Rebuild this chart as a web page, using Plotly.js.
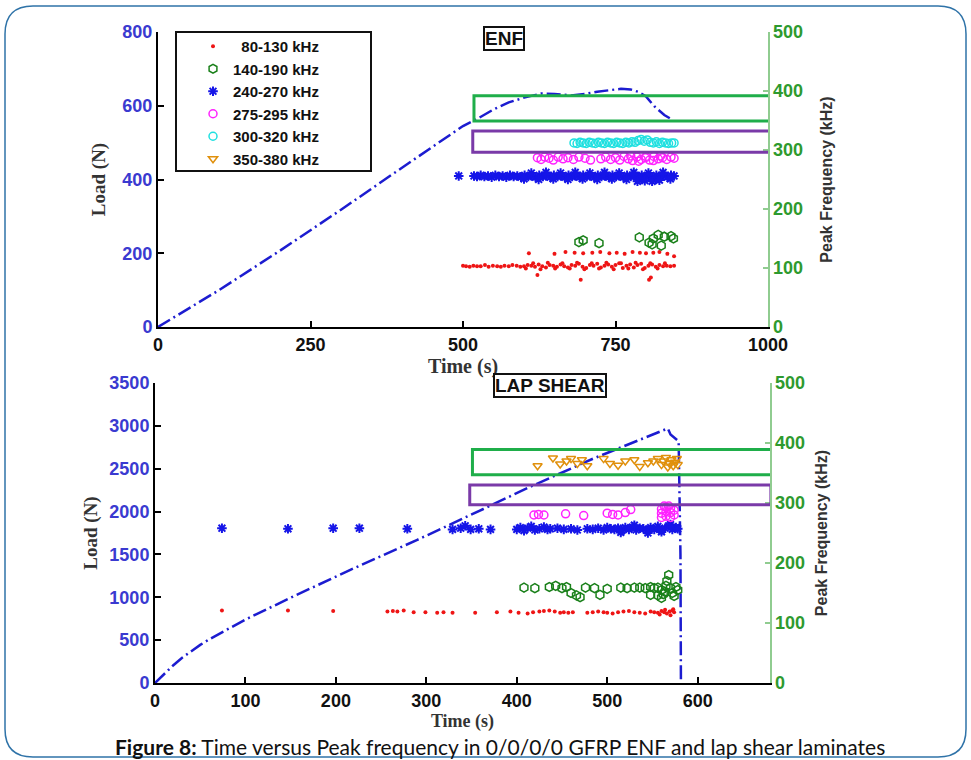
<!DOCTYPE html>
<html>
<head>
<meta charset="utf-8">
<script src="https://cdn.plot.ly/plotly-3.0.1.min.js"></script>
<style>html,body{margin:0;padding:0;background:#fff;}#chart{width:971px;height:760px;}</style>
</head>
<body>
<div id="chart"></div>
<script>
// ---------- DATA ----------
var legendNames = ["\u00a0\u00a080-130 kHz", "140-190 kHz", "240-270 kHz", "275-295 kHz", "300-320 kHz", "350-380 kHz"];

// ENF: load curve
var enfLoadT = [0, 100, 200, 300, 400, 463, 500, 524, 550, 575, 600, 628, 650, 677, 700, 720, 740, 759, 775, 787, 800, 814, 830, 842];
var enfLoadN = [0, 100, 207, 318, 432, 503, 545, 565, 590, 609, 622, 633, 632, 628, 632, 638, 643, 646, 644, 638, 625, 598, 575, 563];

// ENF: peak frequency events
var enfRedT = [500,505,511,517,523,529,536,542,549,556,562,568,575,581,588,594,600,606,612,618,624,630,636,642,648,654,660,666,672,678,684,690,696,702,708,714,720,726,732,738,744,750,756,762,768,774,780,786,792,798,804,810,816,822,828,834,840,846,
  603,615,627,639,651,663,675,687,699,711,723,735,747,759,771,783,795,807,819,831,
  608,650,668,683,697,712,725,740,752,765,778,790,800,812,822,835,846,
  622,693,805,808];
var enfRedF = [104,103,102,104,103,103,105,102,104,103,102,104,103,105,104,102,103,105,104,102,106,103,101,105,104,102,106,103,101,105,104,107,102,100,105,104,107,101,104,106,102,105,108,100,104,106,101,105,107,100,104,106,102,105,103,104,103,104,
  99,108,98,109,99,108,99,109,98,108,99,109,98,108,99,109,98,108,99,108,
  125,124,127,126,125,126,127,125,126,124,127,126,125,126,127,124,120,
  88,80,80,84];

var enfGreenT = [690, 697, 723, 789, 805, 810, 812, 820, 825, 830, 841, 845];
var enfGreenF = [144, 147, 142, 152, 143, 140, 150, 156, 138, 153, 154, 150];

var enfBlueT = [493,518,523,529,535,541,547,553,559,565,571,577,583,589,595,601,607,613,619,625,631,637,643,649,655,661,667,673,679,685,691,697,703,709,715,721,727,733,739,745,751,757,763,769,775,781,787,793,799,805,811,817,823,829,835,841,846,
  600,612,624,636,648,660,672,684,696,708,720,732,744,756,768,780,792,804,816,828,840,
  786,798,810,822];
var enfBlueF = [256,256,255,257,255,256,254,257,255,256,254,257,255,256,254,257,255,256,254,257,255,256,254,257,255,256,254,257,255,256,254,257,255,256,254,257,255,256,254,257,255,256,254,257,255,256,254,257,255,256,254,257,255,256,254,257,256,
  251,261,250,262,251,261,250,262,251,261,250,262,251,261,250,262,251,261,250,262,251,
  247,248,247,249];

var enfMagT = [622,628,634,641,648,656,664,672,681,690,700,709,726,734,742,750,757,764,771,778,785,792,799,806,813,820,827,834,841,846,775,788,800,812,824];
var enfMagF = [287,284,288,286,283,288,285,287,284,288,286,283,285,288,284,287,283,289,285,282,288,284,287,283,289,285,287,284,288,286,290,281,289,282,290];

var enfCyanT = [682,687,692,697,702,707,712,717,722,727,732,737,742,747,752,757,762,767,772,777,782,787,792,797,802,807,812,817,822,827,832,837,842,846];
var enfCyanF = [312,311,313,312,311,313,312,311,313,312,311,313,312,311,313,312,311,313,312,314,313,316,318,315,317,313,312,314,311,313,312,311,312,312];

// LAP SHEAR: load curve
var lapLoadT = [0, 10, 20, 30, 40, 50, 60, 70, 80, 100, 150, 216, 290, 363, 415, 485, 540, 567, 570, 576, 579, 581, 581.5];
var lapLoadN = [0, 105, 205, 295, 375, 445, 510, 570, 625, 740, 995, 1320, 1670, 2030, 2290, 2620, 2850, 2970, 2900, 2840, 2820, 1500, 0];

// LAP SHEAR: peak frequency events
var lapRedT = [74,147,197,257,263,268,275,286,299,312,319,329,354,378,393,402,412,418,425,430,436,442,448,452,457,462,478,484,490,496,500,506,512,518,524,530,536,542,548,552,556,560,563,566,569,572,574,558,564,570,573];
var lapRedF = [121,121,120,119,120,119,121,118,118,117,118,117,117,118,119,117,116,118,119,120,121,119,117,118,117,118,117,118,119,118,117,116,118,119,120,118,117,116,119,118,117,120,118,116,119,121,118,114,122,113,123];

var lapGreenT = [408,420,436,443,450,455,460,466,470,476,486,492,500,515,522,530,536,542,548,552,556,560,562,565,566,568,570,572,574,576,578,556,560,548,564];
var lapGreenF = [159,158,160,162,158,160,150,146,143,159,158,147,157,159,158,159,159,158,160,158,159,155,148,162,170,180,158,150,145,160,155,146,142,147,152];

var lapBlueT = [74,147,197,226,279,329,338,343,349,358,371,400,404,408,412,416,420,425,430,434,437,445,452,460,467,478,484,490,496,500,504,508,512,516,520,524,528,532,536,540,544,548,552,556,560,564,568,572,576,578,515,530,545,560,570];
var lapBlueF = [258,257,258,258,257,256,258,262,256,257,256,256,259,254,258,261,255,257,260,256,257,258,256,257,255,257,256,258,255,259,257,256,258,254,259,256,260,255,258,257,254,259,256,261,255,258,262,256,259,257,251,263,250,252,264];

var lapMagT = [419,424,430,454,474,500,506,512,520,526,560,560,560,565,565,565,570,570,570,574,574,563,568];
var lapMagF = [280,281,280,282,279,283,281,280,284,289,276,283,290,278,286,293,276,284,291,280,288,295,295];

var lapOrangeT = [423,440,448,455,460,467,472,478,496,503,512,520,530,536,545,551,556,560,562,565,567,569,571,573,575,577,578];
var lapOrangeF = [362,375,365,370,374,366,372,362,374,366,363,370,372,361,367,370,374,364,370,376,360,366,372,362,368,374,364];

// ---------- CHART ----------
var TICK = 'Liberation Sans, Arial, sans-serif';
var SERIF = 'Liberation Serif, Times New Roman, serif';
var blueTick = '#3a3ad0', greenTick = '#2e9a2e';

var styles = [
  {symbol:'circle', size:4, color:'#ee1515', line:{width:0}},
  {symbol:'hexagon-open', size:9, color:'#1a801a', line:{width:1.5, color:'#1a801a'}},
  {symbol:'asterisk-open', size:8, color:'#1515e8', line:{width:2, color:'#1515e8'}},
  {symbol:'circle-open', size:8, color:'#ff22ff', line:{width:1.5, color:'#ff22ff'}},
  {symbol:'circle-open', size:8, color:'#20e0e0', line:{width:1.5, color:'#20e0e0'}},
  {symbol:'triangle-down-open', size:8, color:'#e0900c', line:{width:1.5, color:'#e0900c'}}
];

function pts(idx, t, f, xa, ya, legend) {
  return {type:'scatter', mode:'markers', x:t, y:f, xaxis:xa, yaxis:ya, name:legendNames[idx],
    marker:styles[idx], showlegend:legend, legendrank:idx+1, legendgroup:'g'+idx, hoverinfo:'skip'};
}
function loadLine(t, n, xa, ya) {
  return {type:'scatter', mode:'lines', x:t, y:n, xaxis:xa, yaxis:ya, showlegend:false,
    line:{color:'#1c1cd0', width:2.5, dash:'14px,4px,2px,4px'}, hoverinfo:'skip'};
}

var data = [
  loadLine(enfLoadT, enfLoadN, 'x', 'y'),
  pts(0, enfRedT, enfRedF, 'x', 'y2', true),
  pts(1, enfGreenT, enfGreenF, 'x', 'y2', true),
  pts(2, enfBlueT, enfBlueF, 'x', 'y2', true),
  pts(3, enfMagT, enfMagF, 'x', 'y2', true),
  pts(4, enfCyanT, enfCyanF, 'x', 'y2', true),
  loadLine(lapLoadT, lapLoadN, 'x2', 'y3'),
  pts(0, lapRedT, lapRedF, 'x2', 'y4', false),
  pts(1, lapGreenT, lapGreenF, 'x2', 'y4', false),
  pts(2, lapBlueT, lapBlueF, 'x2', 'y4', false),
  pts(3, lapMagT, lapMagF, 'x2', 'y4', false),
  pts(5, lapOrangeT, lapOrangeF, 'x2', 'y4', true)
];

function xAxis(dom, range, dtick, anchor, tsize) {
  return {domain:dom, range:range, dtick:dtick, tick0:0, anchor:anchor, showgrid:false, zeroline:false,
    showline:true, linecolor:'#000', linewidth:2, ticks:'inside', ticklen:6, tickwidth:2, tickcolor:'#000',
    tickfont:{family:TICK, size:18, color:'#111', weight:'bold'},
    title:{text:'Time (s)', font:{family:SERIF, size:tsize, color:'#333', weight:'bold'}, standoff:0}};
}
function yLeft(dom, range, dtick, anchor, standoff) {
  return {domain:dom, range:range, dtick:dtick, anchor:anchor, showgrid:false, zeroline:false,
    showline:true, linecolor:'#000', linewidth:2, ticks:'inside', ticklen:6, tickwidth:2, tickcolor:'#000',
    tickfont:{family:TICK, size:18, color:blueTick, weight:'bold'},
    title:{text:'Load (N)', font:{family:SERIF, size:19, color:'#333', weight:'bold'}, standoff:standoff}};
}
function yRight(overlay, anchor, standoff) {
  return {overlaying:overlay, side:'right', anchor:anchor, range:[0,500], dtick:100, showgrid:false, zeroline:false,
    showline:true, linecolor:'#90cc90', linewidth:1.5, ticks:'inside', ticklen:5, tickwidth:1.5, tickcolor:'#90cc90',
    tickfont:{family:TICK, size:18, color:greenTick, weight:'bold'},
    title:{text:'Peak Frequency (kHz)', font:{family:TICK, size:16, color:'#333', weight:'bold'}, standoff:standoff}};
}

function px(x) { return x/971; }
function py(y) { return 1 - y/760; }

var rx = 28, ry = 28;
var fx0 = px(5), fx1 = px(966), fyT = py(6), fyB = py(757);
var frx = px(rx), fry = ry/760;
var framePath = 'M ' + (fx0+frx) + ' ' + fyT + ' L ' + (fx1-frx) + ' ' + fyT +
  ' Q ' + fx1 + ' ' + fyT + ' ' + fx1 + ' ' + (fyT-fry) +
  ' L ' + fx1 + ' ' + (fyB+fry) + ' Q ' + fx1 + ' ' + fyB + ' ' + (fx1-frx) + ' ' + fyB +
  ' L ' + (fx0+frx) + ' ' + fyB + ' Q ' + fx0 + ' ' + fyB + ' ' + fx0 + ' ' + (fyB+fry) +
  ' L ' + fx0 + ' ' + (fyT-fry) + ' Q ' + fx0 + ' ' + fyT + ' ' + (fx0+frx) + ' ' + fyT + ' Z';

var layout = {
  width:971, height:760, margin:{l:0, r:0, t:0, b:0},
  paper_bgcolor:'#fff', plot_bgcolor:'rgba(0,0,0,0)',
  showlegend:true,
  xaxis: xAxis([px(158), px(768)], [0,1000], 250, 'y', 20),
  yaxis: yLeft([py(327), py(32)], [0,800], 200, 'x', 12),
  yaxis2: yRight('y', 'x', 18),
  xaxis2: xAxis([px(155), px(770)], [0,680], 100, 'y3', 18),
  yaxis3: yLeft([py(683), py(383)], [0,3500], 500, 'x2', 7),
  yaxis4: yRight('y3', 'x2', 11),
  legend:{x:px(193), y:py(30), xanchor:'left', yanchor:'top', bgcolor:'rgba(0,0,0,0)', borderwidth:0,
    font:{family:TICK, size:15, color:'#111', weight:'bold'}, tracegroupgap:0, itemwidth:30},
  shapes:[
    {type:'path', xref:'paper', yref:'paper', path:framePath, line:{color:'#2f73a8', width:1.5}},
    {type:'rect', xref:'paper', yref:'paper', x0:px(176), x1:px(371), y0:py(171), y1:py(32), line:{color:'#111', width:2}, fillcolor:'rgba(0,0,0,0)'},
    {type:'rect', xref:'x', yref:'y2', x0:518, x1:1010, y0:349, y1:392, line:{color:'#1fae4a', width:3}},
    {type:'rect', xref:'x', yref:'y2', x0:516, x1:1010, y0:296, y1:332, line:{color:'#7a3aa8', width:3}},
    {type:'rect', xref:'x2', yref:'y4', x0:351, x1:683, y0:347, y1:389, line:{color:'#1fae4a', width:3}},
    {type:'rect', xref:'x2', yref:'y4', x0:348, x1:681, y0:297, y1:330, line:{color:'#7a3aa8', width:3}}
  ],
  annotations:[
    {xref:'paper', yref:'paper', x:px(504), y:py(39), xanchor:'center', yanchor:'middle', text:'ENF', showarrow:false,
      font:{family:TICK, size:19, color:'#111', weight:'bold'}, bordercolor:'#111', borderwidth:2, borderpad:0, bgcolor:'#fff'},
    {xref:'paper', yref:'paper', x:px(550), y:py(385), xanchor:'center', yanchor:'middle', text:'LAP SHEAR', showarrow:false,
      font:{family:TICK, size:19, color:'#111', weight:'bold'}, bordercolor:'#111', borderwidth:2, borderpad:0, bgcolor:'#fff'},
    {xref:'paper', yref:'paper', x:px(500), y:py(746), xanchor:'center', yanchor:'middle',
      text:'<b>Figure 8:</b> Time versus Peak frequency in 0/0/0/0 GFRP ENF and lap shear laminates',
      showarrow:false, font:{family:'Lato, Liberation Sans, sans-serif', size:21, color:'#111'}}
  ]
};

Plotly.newPlot('chart', data, layout, {staticPlot:true, displayModeBar:false});
</script>
</body>
</html>
